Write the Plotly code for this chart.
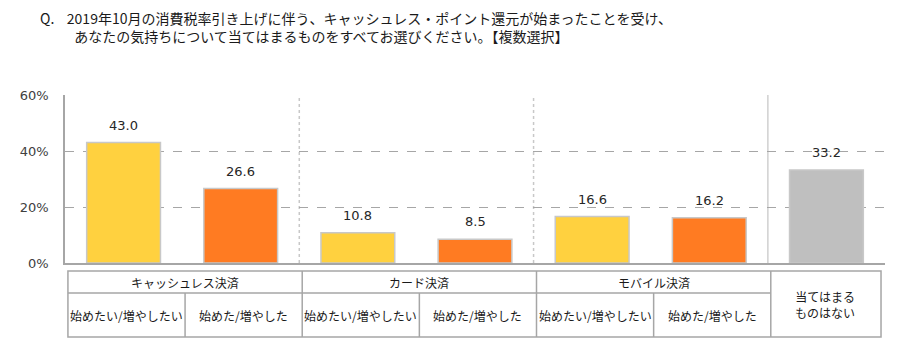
import plotly.graph_objects as go

# ---- data ----
groups = ["キャッシュレス決済", "カード決済", "モバイル決済"]
sub_labels = ["始めたい/増やしたい", "始めた/増やした"]
last_label = "当てはまる<br>ものはない"
values = [43.0, 26.6, 10.8, 8.5, 16.6, 16.2, 33.2]
tick_vals = [0, 20, 40, 60]
tick_text = ["0%", "20%", "40%", "60%"]
title_line1 = "Q.\u00a0\u00a0\u00a0\u00a02019年10月の消費税率引き上げに伴う、キャッシュレス・ポイント還元が始まったことを受け、"
title_line2 = "あなたの気持ちについて当てはまるものをすべてお選びください。【複数選択】"

# ---- styles ----
YELLOW = "#FFD13F"
ORANGE = "#FF7B22"
GRAY = "#BFBFBF"
bar_colors = [YELLOW, ORANGE, YELLOW, ORANGE, YELLOW, ORANGE, GRAY]
LINE = "#A6A6A6"
JP = "Noto Sans CJK JP"
NUM = "DejaVu Sans"

xs = list(range(len(values)))

fig = go.Figure()
fig.add_trace(go.Bar(
    x=xs, y=values, width=0.63,
    marker=dict(color=bar_colors, line=dict(color="#C8C8C8", width=1.5)),
    hoverinfo="skip",
))

# data labels
for x, v in zip(xs, values):
    fig.add_annotation(x=x, y=v, text=f"{v:.1f}", showarrow=False,
                       yanchor="bottom", yshift=8,
                       font=dict(family=NUM, size=13, color="#262626"))

# vertical separators in plot
for xv, dash, col in [(1.5, "dot", "#C8C8C8"), (3.5, "dot", "#C8C8C8"), (5.5, "solid", "#D0D0D0")]:
    fig.add_shape(type="line", xref="x", yref="y", x0=xv, x1=xv, y0=0, y1=60,
                  line=dict(color=col, width=1.5, dash=dash), layer="below")

# ---- table below ----
y_top, y_mid, y_bot = -0.0476, -0.1786, -0.4405
x_left, x_right = -0.475, 6.466
off = 0.025
tl = dict(color=LINE, width=1.5)
fig.add_shape(type="rect", xref="x", yref="paper", x0=x_left, x1=x_right, y0=y_bot, y1=y_top, line=tl)
fig.add_shape(type="line", xref="x", yref="paper", x0=x_left, x1=5.5 + off, y0=y_mid, y1=y_mid, line=tl)
for g in range(3):
    xv = 2 * g + 1.5 + off
    fig.add_shape(type="line", xref="x", yref="paper", x0=xv, x1=xv, y0=y_bot, y1=y_top, line=tl)
    xs_sub = 2 * g + 0.5 + off
    fig.add_shape(type="line", xref="x", yref="paper", x0=xs_sub, x1=xs_sub, y0=y_bot, y1=y_mid, line=tl)
for g, name in enumerate(groups):
    fig.add_annotation(x=2 * g + 0.5 + off, y=(y_top + y_mid) / 2, xref="x", yref="paper",
                       text=name, showarrow=False, yanchor="middle",
                       font=dict(family=JP, size=12, color="#1a1a1a"))
    for s, lab in enumerate(sub_labels):
        fig.add_annotation(x=2 * g + s + off, y=(y_mid + y_bot) / 2, xref="x", yref="paper",
                           text=lab, showarrow=False, yanchor="middle",
                           font=dict(family=JP, size=12, color="#1a1a1a"))
fig.add_annotation(x=6 - 0.01, y=(y_top + y_bot) / 2, xref="x", yref="paper",
                   text=last_label, showarrow=False, yanchor="middle",
                   font=dict(family=JP, size=12, color="#1a1a1a"))

# ---- title ----
indent = "\u3000\u3000\u00a0\u00a0"
fig.add_annotation(x=-0.0327, y=1.405, xref="paper", yref="paper",
                   text=title_line1 + "<br>" + indent + title_line2,
                   showarrow=False, xanchor="left", yanchor="middle", align="left",
                   font=dict(family=JP, size=14, color="#1a1a1a"))

fig.update_layout(
    width=900, height=357,
    margin=dict(l=52, r=23, t=87, b=102),
    paper_bgcolor="white", plot_bgcolor="white",
    showlegend=False,
    xaxis=dict(range=[-0.5, 6.5], showticklabels=False, showgrid=False, zeroline=False,
               showline=True, linecolor=LINE, linewidth=1.5, fixedrange=True),
    yaxis=dict(range=[0, 60], tickvals=tick_vals, ticktext=tick_text,
               showgrid=True, gridcolor="#A6A6A6", griddash="dash", gridwidth=1,
               zeroline=False, showline=True, linecolor=LINE, linewidth=1.5,
               ticklabelstandoff=12,
               tickfont=dict(family=NUM, size=13, color="#404040")),
)

fig.write_html("out.html")
